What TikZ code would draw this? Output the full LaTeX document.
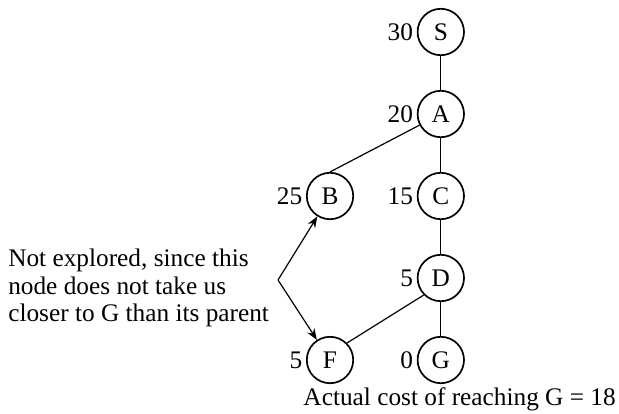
\documentclass[tikz,border=0pt]{standalone}
\usepackage{fontspec}
\setmainfont{Liberation Serif}
\usetikzlibrary{arrows.meta}

\begin{document}
\begin{tikzpicture}[every node/.style={font=\fontsize{18}{19.5}\selectfont},
    hnode/.style={circle, draw, line width=1.2pt, minimum size=1.16cm, inner sep=0pt},
    hcost/.style={inner sep=2.5pt},
    edge/.style={line width=0.85pt}]
    \useasboundingbox (0,0) rectangle (15.475,10.325);
    \node[hnode, label={[hcost]left:30}] (S) at (11.02,9.525) {S};
    \node[hnode, label={[hcost]left:20}] (A) at (11.02,7.475) {A};
    \node[hnode, label={[hcost]left:25}] (B) at (8.25,5.425) {B};
    \node[hnode, label={[hcost]left:15}] (C) at (11.02,5.425) {C};
    \node[hnode, label={[hcost]left:5}] (D) at (11.02,3.375) {D};
    \node[hnode, label={[hcost]left:5}] (F) at (8.25,1.325) {F};
    \node[hnode, label={[hcost]left:0}] (G) at (11.02,1.325) {G};
    \draw[edge] (S) -- (A);
    \draw[edge] (A) -- (C);
    \draw[edge] (B.north) -- (A);
    \draw[edge] (C) -- (D);
    \draw[edge] (D) -- (G);
    \draw[edge] (F.north east) -- (D.south west);
    \node[align=left, anchor=west, inner sep=0pt] (note) at (0.2,3.125)
      {Not explored, since this\\node does not take us\\closer to G than its parent};
    \coordinate (fork) at (6.95,3.325);
    \draw[-{Stealth[length=8pt, width=6pt]}, edge] (fork) -- (B);
    \draw[-{Stealth[length=8pt, width=6pt]}, edge] (fork) -- (F);
    \node[anchor=base] (cost) at (11.49,0.18) {Actual cost of reaching G = 18};
  \end{tikzpicture}
\end{document}
